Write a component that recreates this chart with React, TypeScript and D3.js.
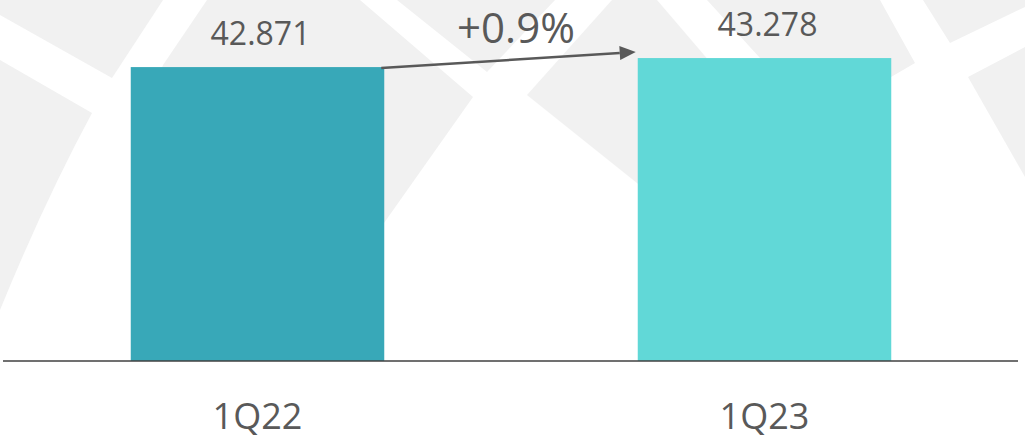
import React from 'react';
import * as d3 from 'd3';

// chart data
const categories = ['1Q22', '1Q23'];
const values = [42.871, 43.278];
const barColors = ['#38a8b8', '#61d8d7'];

// light watermark shapes drawn behind the chart (pixel paths)
const watermark = [
  'M0,0 L163,0 L112,78 L0,15 Z',
  'M0,60 L92,113 Q45,200 0,310 Z',
  'M207,0 L360,0 L473,97 L384,223 L200,360 L150,360 L150,100 L163,65 Z',
  'M397,0 L555,0 L487,72 Z',
  'M612,0 L657,0 L710,62 L660,200 L637,183 L527,95 Z',
  'M707,0 L880,0 L915,63 L891,77 L870,150 L770,70 L760,58 Z',
  'M923,0 L1025,0 L1025,7 L950,43 Z',
  'M968,77 L1025,47 L1025,177 Z',
];

const W = 1025;
const H = 439;
const baseY = 361;
const textColor = '#595959';
const font = "'Open Sans', sans-serif";

const App: React.FC = () => {
  const x = d3
    .scaleBand<string>()
    .domain(categories)
    .range([4, 1018])
    .paddingInner(0.5)
    .paddingOuter(0.25);

  const y = d3.scaleLinear().domain([29.6, 45.9]).range([baseY, 0]);

  const fmt = d3.format('.3f');
  const change = d3.format('+.1%')(values[1] / values[0] - 1);

  const bw = x.bandwidth();
  // arrow from top right of first bar to just above second bar
  const ax1 = x(categories[0])! + bw - 3;
  const ay1 = y(values[0]) + 1;
  const ax2 = x(categories[1])! - 2;
  const ay2 = y(values[1]) - 6;
  const angle = Math.atan2(ay2 - ay1, ax2 - ax1);
  const headLen = 16;
  const headW = 7;
  const bx = ax2 - headLen * Math.cos(angle);
  const by = ay2 - headLen * Math.sin(angle);
  const head = [
    [ax2, ay2],
    [bx + headW * Math.sin(angle), by - headW * Math.cos(angle)],
    [bx - headW * Math.sin(angle), by + headW * Math.cos(angle)],
  ];

  return (
    <svg
      width={W}
      height={H}
      style={{ position: 'absolute', left: 0, top: 0, background: '#fff' }}
    >
      <g fill="#f1f1f1">
        {watermark.map((d, i) => (
          <path key={i} d={d} />
        ))}
      </g>

      {/* bars */}
      {categories.map((c, i) => (
        <rect
          key={c}
          x={x(c)}
          y={y(values[i])}
          width={bw}
          height={baseY - y(values[i])}
          fill={barColors[i]}
        />
      ))}

      {/* baseline */}
      <line x1={3} x2={1018} y1={baseY} y2={baseY} stroke="#404040" strokeWidth={1.6} />

      {/* value labels */}
      {categories.map((c, i) => (
        <text
          key={c}
          x={x(c)! + bw / 2 + 3}
          y={y(values[i]) - 22}
          textAnchor="middle"
          fontFamily={font}
          fontSize={32}
          fill={textColor}
        >
          {fmt(values[i])}
        </text>
      ))}

      {/* category labels */}
      {categories.map((c) => (
        <text
          key={c}
          x={x(c)! + bw / 2}
          y={429}
          textAnchor="middle"
          fontFamily={font}
          fontSize={36}
          fill={textColor}
        >
          {c}
        </text>
      ))}

      {/* growth arrow */}
      <line x1={ax1} y1={ay1} x2={bx} y2={by} stroke={textColor} strokeWidth={2.5} />
      <polygon points={head.map((p) => p.join(',')).join(' ')} fill={textColor} />
      <text
        x={(x(categories[0])! + bw + x(categories[1])!) / 2 + 5}
        y={43}
        textAnchor="middle"
        fontFamily={font}
        fontSize={42}
        fill={textColor}
      >
        {change}
      </text>
    </svg>
  );
};

export default App;
